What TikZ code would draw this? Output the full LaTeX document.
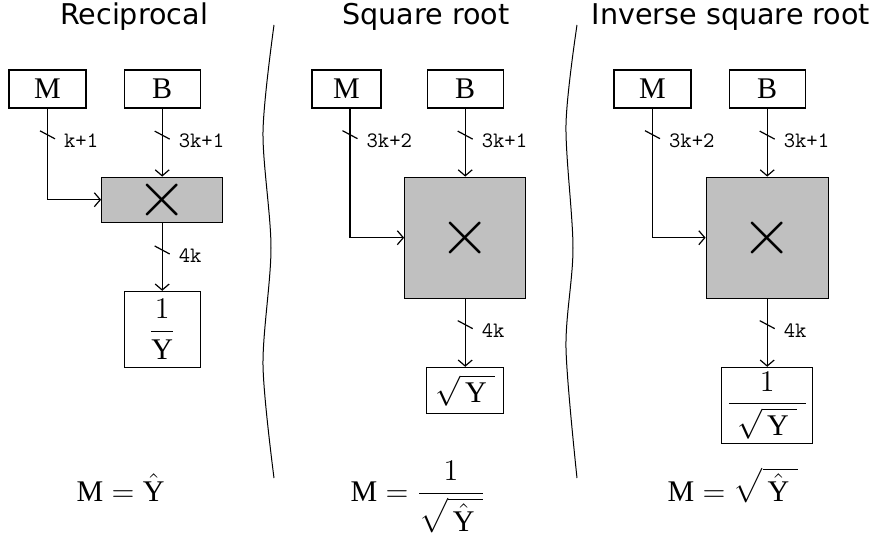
\RequirePackage{fix-cm}
\documentclass[tikz,border=0pt]{standalone}
\usepackage{amsmath}
\usepackage{fontspec}
\setmainfont{Liberation Serif}
\newfontfamily\headfont{DejaVu Sans}
\usetikzlibrary{arrows.meta,positioning}
\definecolor{multgray}{RGB}{192,192,192}

\begin{document}
\begin{tikzpicture}[x=0.5pt,y=-0.5pt,line width=0.6pt,
  regbox/.style={draw,fill=white,inner sep=0,minimum height=19pt,font=\fontsize{15}{18}\selectfont},
  multbox/.style={draw,fill=multgray,inner sep=0,font=\fontsize{33}{33}\selectfont},
  outbox/.style={draw,inner sep=0,font=\fontsize{15}{18}\selectfont},
  bits/.style={font=\ttfamily\fontsize{11}{12}\selectfont,anchor=west,inner sep=0,xshift=8pt,yshift=-3pt},
  wire/.style={-{Straight Barb[length=3pt,width=7pt]}},
  heading/.style={font=\headfont\fontsize{14.3}{16}\selectfont,anchor=base,inner sep=0},
  formula/.style={font=\fontsize{15}{18}\selectfont,anchor=base west,inner sep=0}
]
\useasboundingbox (0,0) rectangle (875,546);

\node[heading] (H1) at (134,25) {Reciprocal};
\node[heading] (H2) at (426,25) {Square root};
\node[heading] (H3) at (731,25) {Inverse square root};

% reciprocal
\node[regbox,minimum width=38.5pt] at (47.5,89) (M1) {M};
\node[regbox,minimum width=38pt,right=18.5pt of M1] (B1) {B};
\node[multbox,minimum width=60.5pt,minimum height=22.5pt,below=34pt of B1] (X1) {$\times$};
\node[outbox,minimum width=38pt,minimum height=38pt,below=34pt of X1] (O1) {$\dfrac{1}{\mathrm{Y}}$};

% square root
\node[regbox,minimum width=34.5pt] at (346.5,89) (M2) {M};
\node[regbox,minimum width=38pt,right=22.5pt of M2] (B2) {B};
\node[multbox,minimum width=60.5pt,minimum height=60.5pt,below=34pt of B2] (X2) {$\times$};
\node[outbox,minimum width=38.5pt,minimum height=23pt,below=34pt of X2] (O2) {$\sqrt{\,\mathrm{Y}\;}$};

% inverse square root
\node[regbox,minimum width=38.5pt] at (652.5,89) (M3) {M};
\node[regbox,minimum width=38pt,right=18.5pt of M3] (B3) {B};
\node[multbox,minimum width=61pt,minimum height=60.5pt,below=34pt of B3] (X3) {$\times$};
\node[outbox,minimum width=45.5pt,minimum height=38pt,below=34pt of X3] (O3) {$\dfrac{1}{\;\sqrt{\,\mathrm{Y}\;}\;}$};

\draw[wire] (M1) |- coordinate[pos=0.144] (tM1) node[bits,pos=0.144] {k+1} (X1);
\draw[wire] (B1) -- coordinate[pos=0.39] (tB1) node[bits,pos=0.39] {3k+1} (X1);
\draw[wire] (X1) -- coordinate[pos=0.4] (tO1) node[bits,pos=0.4] {4k} (O1);

\draw[wire] ([xshift=1.75pt]M2.south) |- coordinate[pos=0.101] (tM2) node[bits,pos=0.101] {3k+2} (X2.west);
\draw[wire] (B2) -- coordinate[pos=0.39] (tB2) node[bits,pos=0.39] {3k+1} (X2);
\draw[wire] (X2) -- coordinate[pos=0.38] (tO2) node[bits,pos=0.38] {4k} (O2);

\draw[wire] (M3) |- coordinate[pos=0.101] (tM3) node[bits,pos=0.101] {3k+2} (X3);
\draw[wire] (B3) -- coordinate[pos=0.39] (tB3) node[bits,pos=0.39] {3k+1} (X3);
\draw[wire] (X3) -- coordinate[pos=0.38] (tO3) node[bits,pos=0.38] {4k} (O3);

\foreach \p in {tM1,tB1,tO1,tM2,tB2,tO2,tM3,tB3,tO3}
  \draw (\p) ++(-7.5,-4) -- ++(15,8);

\node[formula] at (76,501) (F1) {$\mathrm{M}=\hat{\mathrm{Y}}$};
\node[formula] at (350,501) (F2) {$\mathrm{M}=\dfrac{1}{\sqrt{\,\hat{\mathrm{Y}}\;}}$};
\node[formula] at (667,501) (F3) {$\mathrm{M}=\sqrt{\,\hat{\mathrm{Y}}\;}$};

% separators
\draw[line width=0.5pt] plot[smooth] coordinates {(274,25) (263,132) (271,248) (263,365) (274,478)};
\draw[line width=0.5pt] plot[smooth] coordinates {(577,25) (566,125) (573,248) (566,348) (577,478)};
\end{tikzpicture}
\end{document}
